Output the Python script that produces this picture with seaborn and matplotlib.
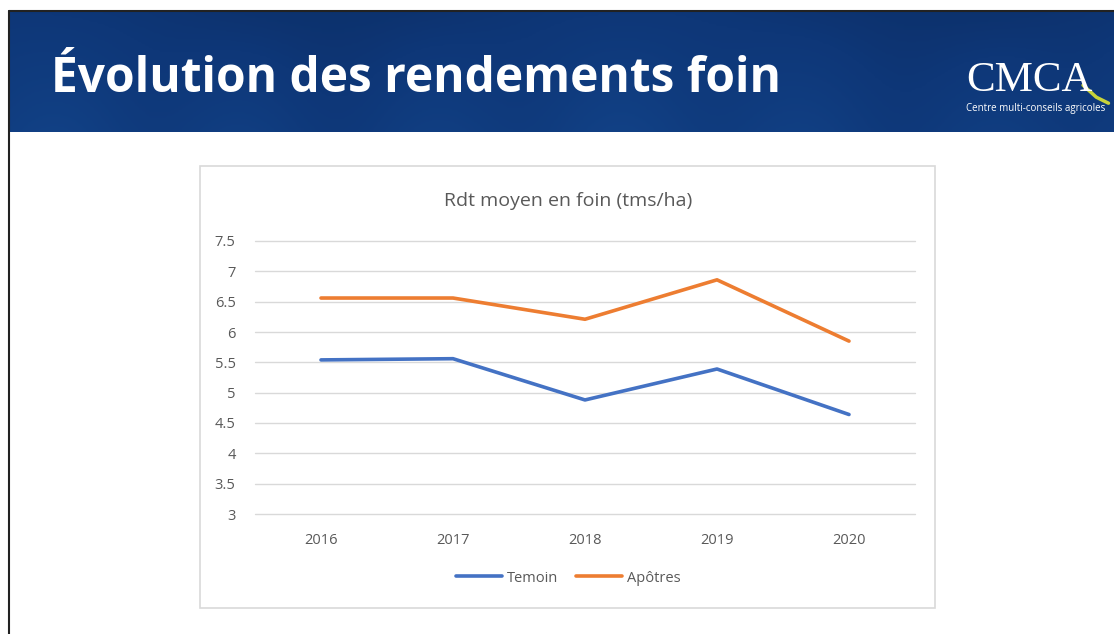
import numpy as np
import pandas as pd
import matplotlib
matplotlib.use("Agg")
import matplotlib.pyplot as plt
from matplotlib.patches import Rectangle
import seaborn as sns

# ================= DONNÉES =================
ANNEES = ["2016", "2017", "2018", "2019", "2020"]
TEMOIN = [5.54, 5.56, 4.88, 5.39, 4.64]
APOTRES = [6.56, 6.56, 6.21, 6.86, 5.85]
SERIES = ["Temoin", "Apôtres"]
COULEURS = ["#4472C4", "#ED7D31"]
Y_TICKS = [3, 3.5, 4, 4.5, 5, 5.5, 6, 6.5, 7, 7.5]

TITRE_SLIDE = "Évolution des rendements foin"
TITRE_GRAPH = "Rdt moyen en foin (tms/ha)"

W, H = 1114, 634

df = pd.DataFrame({
    "annee": ANNEES * 2,
    "rdt": TEMOIN + APOTRES,
    "serie": [SERIES[0]] * len(ANNEES) + [SERIES[1]] * len(ANNEES),
})

sns.set_theme(style="white")
plt.rcParams["font.family"] = ["Open Sans", "DejaVu Sans"]

fig = plt.figure(figsize=(W / 100, H / 100), dpi=100)
fig.patch.set_facecolor("white")

def fx(px):
    return px / W

def fy(py):
    return 1 - py / H

# ---------- bandeau bleu ----------
ax_band = fig.add_axes([fx(9), fy(132), fx(W - 9), (132 - 12) / H])
gy = np.linspace(0, 1, 60)[:, None]
gx = np.linspace(0, 1, 300)[None, :]
fond = 0.6 + 0.2 * gy + 0.06 * np.sin(gx * 37) * gy + 0.05 * np.cos(gx * 11)
band_cmap = matplotlib.colors.LinearSegmentedColormap.from_list(
    "bleu", ["#0a2859", "#0e3778", "#124287"])
ax_band.imshow(fond, aspect="auto", cmap=band_cmap, vmin=0.35, vmax=0.95,
               extent=[0, 1, 0, 1])
ax_band.set_axis_off()
ax_band.set_xlim(0, 1)
ax_band.set_ylim(0, 1)
ax_band.text(0.038, 0.44, TITRE_SLIDE, transform=ax_band.transAxes,
             color="white", fontsize=34.5, fontweight="bold",
             family=["Open Sans", "DejaVu Sans"], va="center", ha="left")
# logo CMCA
ax_band.text(0.866, 0.43, "CMCA", transform=ax_band.transAxes,
             color="white", fontsize=31, family="Liberation Serif",
             va="center", ha="left")
ax_band.plot([0.972, 0.984, 0.995], [0.39, 0.29, 0.24],
             color="#c8d33a", lw=2.5, solid_capstyle="round")
ax_band.text(0.866, 0.2, "Centre multi-conseils agricoles",
             transform=ax_band.transAxes, color="white", fontsize=7,
             va="center", ha="left")

# bordure noire
fig.add_artist(plt.Line2D([fx(9), 1], [fy(11), fy(11)], color="#222222", lw=1.5))
fig.add_artist(plt.Line2D([fx(9), fx(9)], [fy(11), 0], color="#222222", lw=1.5))

# ---------- cadre du graphique ----------
fig.add_artist(Rectangle((fx(200), fy(608)), fx(735), (608 - 166) / H,
                         fill=False, edgecolor="#d9d9d9", lw=1.2))

ax = fig.add_axes([fx(255), fy(514), fx(660), (514 - 241) / H])
sns.lineplot(data=df, x="annee", y="rdt", hue="serie", palette=COULEURS,
             linewidth=2.6, ax=ax, legend=False, sort=False)
ax.set_xlim(-0.5, len(ANNEES) - 0.5)
ax.set_ylim(3, 7.5)
ax.set_yticks(Y_TICKS)
ax.set_yticklabels([f"{v:g}" for v in Y_TICKS])
ax.yaxis.grid(True, color="#d9d9d9", lw=1)
for gl in ax.get_ygridlines():
    gl.set_clip_on(False)
ax.set_axisbelow(True)
for s in ax.spines.values():
    s.set_visible(False)
ax.tick_params(axis="both", length=0, colors="#595959", labelsize=10.5)
ax.tick_params(axis="x", pad=14)
ax.tick_params(axis="y", pad=14)
ax.set_xlabel("")
ax.set_ylabel("")
ax.set_facecolor("none")

fig.text(fx(568), fy(201), TITRE_GRAPH, ha="center", va="center",
         color="#595959", fontsize=14)

# légende
handles = [plt.Line2D([0], [0], color=c, lw=2.6) for c in COULEURS]
fig.legend(handles, SERIES, loc="center", bbox_to_anchor=(fx(568), fy(578)),
           ncol=2, frameon=False, fontsize=10.5, labelcolor="#595959",
           handlelength=3.2, handletextpad=0.3, columnspacing=1.2)

fig.savefig("out.png", dpi=100)
